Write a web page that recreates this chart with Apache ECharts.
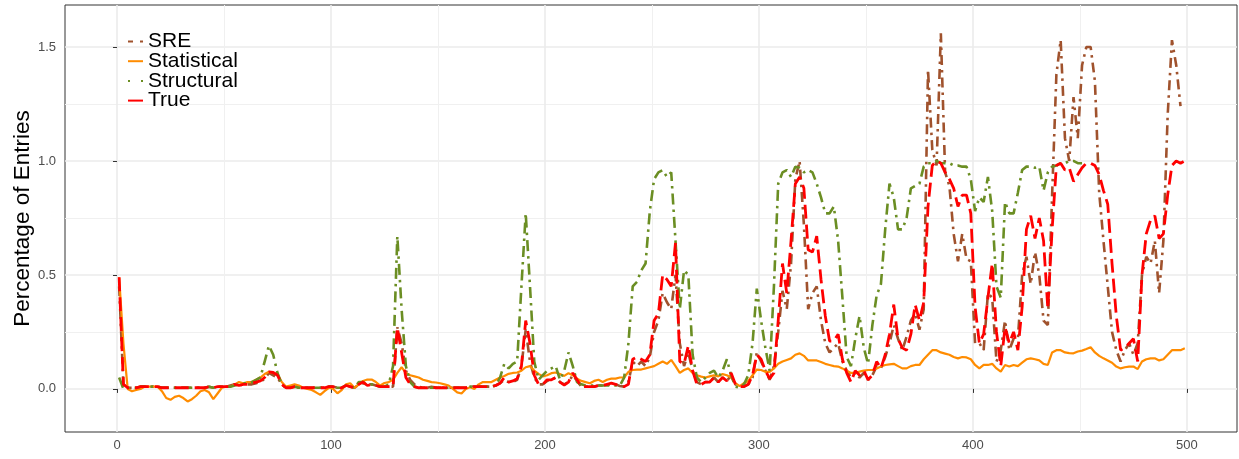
<!DOCTYPE html>
<html>
<head>
<meta charset="utf-8">
<script src="https://cdn.jsdelivr.net/npm/echarts@6.0.0/dist/echarts.min.js"></script>
<style>
html,body{margin:0;padding:0;background:#fff;}
#chart{width:1239px;height:459px;}
</style>
</head>
<body>
<div id="chart"></div>
<script>
// x positions (entry index)
const xValues = [
1,3,5,7,9,11,13,15,17,19,
21,23,25,27,29,31,33,35,37,39,
41,43,45,47,49,51,53,55,57,59,
61,63,65,67,69,71,73,75,77,79,
81,83,85,87,89,91,93,95,97,99,
101,103,105,107,109,111,113,115,117,119,
121,123,125,127,129,131,133,135,137,139,
141,143,145,147,149,151,153,155,157,159,
161,163,165,167,169,171,173,175,177,179,
181,183,185,187,189,191,193,195,197,199,
201,203,205,207,209,211,213,215,217,219,
221,223,225,227,229,231,233,235,237,239,
241,243,245,247,249,251,253,255,257,259,
261,263,265,267,269,271,273,275,277,279,
281,283,285,287,289,291,293,295,297,299,
301,303,305,307,309,311,313,315,317,319,
321,323,325,327,329,331,333,335,337,339,
341,343,345,347,349,351,353,355,357,359,
361,363,365,367,369,371,373,375,377,379,
381,383,385,387,389,391,393,395,397,399,
401,403,405,407,409,411,413,415,417,419,
421,423,425,427,429,431,433,435,437,439,
441,443,445,447,449,451,453,455,457,459,
461,463,465,467,469,471,473,475,477,479,
481,483,485,487,489,491,493,495,497,499
];

const sreValues = [
0.45,0.02,0.005,0.005,0.005,0.01,0.01,0.01,0.01,0.01,
0.005,0.005,0.005,0.005,0.005,0.005,0.005,0.005,0.005,0.005,
0.005,0.01,0.005,0.01,0.01,0.01,0.015,0.02,0.015,0.02,
0.02,0.02,0.025,0.03,0.045,0.07,0.06,0.05,0.02,0.005,
0.005,0.01,0.005,0.005,0.005,0.005,0.005,0.005,0.005,0.01,
0.01,0.005,0.005,0.015,0.01,0.005,0.02,0.025,0.02,0.02,
0.015,0.01,0.01,0.01,0.01,0.27,0.2,0.08,0.04,0.02,
0.01,0.005,0.005,0.01,0.005,0.005,0.005,0.005,0.005,0.005,
0.005,0.005,0.01,0.01,0.01,0.01,0.01,0.01,0.015,0.025,
0.04,0.03,0.03,0.04,0.1,0.26,0.12,0.05,0.02,0.02,
0.035,0.04,0.05,0.03,0.02,0.03,0.06,0.035,0.01,0.01,
0.01,0.01,0.015,0.015,0.02,0.02,0.02,0.013,0.01,0.03,
0.12,0.1,0.12,0.1,0.14,0.25,0.3,0.42,0.38,0.35,
0.5,0.2,0.1,0.16,0.08,0.03,0.02,0.03,0.03,0.05,
0.03,0.05,0.035,0.06,0.02,0.01,0.01,0.02,0.05,0.16,
0.12,0.08,0.04,0.1,0.25,0.43,0.35,0.55,0.92,1.0,
0.72,0.35,0.42,0.45,0.3,0.2,0.16,0.18,0.2,0.12,
0.08,0.05,0.07,0.05,0.07,0.04,0.06,0.1,0.09,0.14,
0.2,0.28,0.22,0.17,0.23,0.3,0.33,0.26,0.35,1.4,
1.05,0.98,1.56,0.95,0.89,0.68,0.56,0.68,0.57,0.56,
0.2,0.2,0.17,0.42,0.4,0.12,0.17,0.3,0.17,0.22,
0.22,0.5,0.58,0.46,0.6,0.5,0.3,0.28,0.85,1.38,
1.53,1.1,1.0,1.28,1.1,1.42,1.5,1.5,1.35,0.86,
0.65,0.45,0.25,0.17,0.12,0.17,0.2,0.15,0.2,0.5,
0.58,0.55,0.65,0.42,0.65,1.2,1.53,1.42,1.24,null
];

const statisticalValues = [
0.49,0.2,0.0,-0.01,-0.005,0.0,0.01,0.01,0.01,0.01,
-0.01,-0.04,-0.048,-0.035,-0.03,-0.04,-0.055,-0.045,-0.03,-0.01,
-0.005,-0.015,-0.045,-0.02,0.005,0.01,0.01,0.02,0.03,0.025,
0.03,0.03,0.04,0.05,0.065,0.075,0.07,0.065,0.03,0.01,
0.015,0.02,0.015,0.005,0.0,-0.005,-0.015,-0.026,-0.01,0.005,
0.0,-0.019,-0.005,0.02,0.025,0.005,0.02,0.035,0.041,0.041,
0.03,0.015,0.026,0.03,0.04,0.07,0.095,0.07,0.06,0.055,
0.05,0.04,0.035,0.03,0.028,0.025,0.02,0.015,0.0,-0.015,
-0.02,0.0,0.007,0.0,0.02,0.03,0.03,0.03,0.04,0.05,
0.057,0.066,0.07,0.072,0.08,0.095,0.1,0.08,0.066,0.055,
0.06,0.069,0.072,0.065,0.057,0.069,0.06,0.045,0.035,0.03,
0.025,0.035,0.04,0.03,0.04,0.045,0.045,0.05,0.05,0.075,
0.083,0.085,0.085,0.09,0.095,0.1,0.11,0.12,0.11,0.127,
0.1,0.07,0.083,0.09,0.07,0.06,0.054,0.05,0.055,0.06,
0.055,0.065,0.06,0.05,0.025,0.012,0.025,0.035,0.06,0.085,
0.083,0.075,0.075,0.09,0.11,0.12,0.127,0.134,0.15,0.156,
0.145,0.125,0.125,0.125,0.118,0.11,0.105,0.1,0.098,0.09,
0.08,0.07,0.07,0.076,0.08,0.083,0.083,0.09,0.098,0.105,
0.108,0.11,0.1,0.09,0.09,0.1,0.105,0.105,0.13,0.15,
0.17,0.17,0.16,0.155,0.15,0.14,0.134,0.14,0.138,0.13,
0.105,0.09,0.105,0.105,0.11,0.09,0.076,0.105,0.098,0.105,
0.1,0.115,0.13,0.134,0.13,0.125,0.11,0.105,0.16,0.17,
0.17,0.16,0.157,0.156,0.164,0.168,0.175,0.183,0.16,0.145,
0.134,0.125,0.115,0.098,0.09,0.095,0.098,0.098,0.087,0.12,
0.13,0.134,0.134,0.125,0.13,0.15,0.17,0.17,0.17,0.178
];

const structuralValues = [
0.05,0.0,0.005,0.005,0.005,0.01,0.01,0.01,0.01,0.01,
0.005,0.005,0.005,0.005,0.005,0.005,0.005,0.005,0.005,0.005,
0.005,0.01,0.005,0.01,0.01,0.01,0.01,0.015,0.02,0.025,
0.025,0.03,0.04,0.05,0.12,0.19,0.15,0.07,0.02,0.005,
0.005,0.01,0.005,0.005,0.005,0.005,0.005,0.005,0.005,0.01,
0.01,0.005,0.005,0.015,0.01,0.005,0.03,0.03,0.015,0.02,
0.015,0.01,0.01,0.02,0.1,0.67,0.35,0.1,0.03,0.01,
0.005,0.005,0.005,0.005,0.005,0.005,0.005,0.005,0.005,0.005,
0.005,0.005,0.01,0.01,0.01,0.01,0.01,0.01,0.015,0.05,
0.11,0.09,0.11,0.12,0.45,0.77,0.45,0.12,0.04,0.06,
0.08,0.09,0.1,0.04,0.08,0.16,0.1,0.03,0.02,0.015,
0.015,0.015,0.015,0.015,0.015,0.015,0.015,0.015,0.05,0.2,
0.45,0.47,0.52,0.55,0.78,0.92,0.95,0.96,0.93,0.95,
0.65,0.35,0.52,0.5,0.15,0.05,0.03,0.05,0.07,0.08,
0.05,0.08,0.13,0.06,0.01,0.005,0.02,0.06,0.2,0.44,
0.3,0.18,0.08,0.45,0.9,0.95,0.96,0.93,0.975,0.97,
0.95,0.96,0.95,0.9,0.84,0.77,0.77,0.8,0.65,0.4,
0.14,0.1,0.22,0.32,0.18,0.11,0.28,0.41,0.46,0.7,
0.9,0.84,0.7,0.7,0.75,0.88,0.89,0.9,0.975,0.99,
0.99,1.0,0.99,0.99,0.99,0.98,0.98,0.975,0.975,0.92,
0.78,0.84,0.82,0.93,0.78,0.45,0.4,0.82,0.77,0.77,
0.86,0.96,0.975,0.975,0.97,0.975,0.87,0.95,0.975,0.98,
0.99,0.99,1.0,1.0,0.99,0.99,null,null,null,null,
null,null,null,null,null,null,null,null,null,null,
null,null,null,null,null,null,null,null,null,null
];

const trueValues = [
0.49,0.02,0.005,0.005,0.005,0.01,0.01,0.01,0.01,0.01,
0.005,0.005,0.005,0.005,0.005,0.005,0.005,0.005,0.005,0.005,
0.005,0.01,0.005,0.01,0.01,0.01,0.01,0.02,0.015,0.02,
0.02,0.025,0.03,0.035,0.05,0.075,0.072,0.06,0.02,0.005,
0.005,0.01,0.005,0.005,0.005,0.005,0.005,0.005,0.005,0.01,
0.01,0.0,0.005,0.015,0.01,0.005,0.02,0.03,0.015,0.02,
0.015,0.01,0.01,0.01,0.01,0.27,0.16,0.05,0.02,0.01,
0.005,0.005,0.005,0.01,0.005,0.005,0.005,0.005,0.005,0.005,
0.005,0.005,0.01,0.01,0.01,0.01,0.01,0.01,0.015,0.025,
0.05,0.03,0.035,0.045,0.1,0.3,0.2,0.06,0.02,0.02,
0.04,0.04,0.05,0.03,0.017,0.03,0.07,0.04,0.01,0.01,
0.01,0.01,0.015,0.015,0.02,0.025,0.02,0.013,0.01,0.02,
0.13,0.14,0.13,0.12,0.15,0.3,0.33,0.5,0.48,0.45,
0.64,0.12,0.11,0.19,0.08,0.02,0.02,0.03,0.03,0.05,
0.03,0.05,0.035,0.07,0.02,0.01,0.01,0.02,0.06,0.15,
0.13,0.08,0.045,0.07,0.3,0.55,0.42,0.65,0.9,0.93,
0.88,0.61,0.6,0.67,0.48,0.32,0.21,0.21,0.24,0.13,
0.07,0.03,0.08,0.06,0.08,0.04,0.06,0.12,0.09,0.15,
0.24,0.37,0.22,0.18,0.17,0.24,0.37,0.3,0.38,0.8,
0.98,1.0,0.99,0.95,0.92,0.88,0.8,0.85,0.85,0.77,
0.36,0.2,0.24,0.4,0.55,0.25,0.1,0.27,0.2,0.25,
0.17,0.36,0.7,0.76,0.66,0.75,0.65,0.35,0.7,0.98,
0.99,0.96,0.97,0.91,0.94,0.97,0.99,0.99,0.98,0.94,
0.87,0.81,0.55,0.32,0.17,0.18,0.2,0.22,0.12,0.5,
0.68,0.74,0.76,0.66,0.68,0.85,0.98,1.0,0.99,1.0
];

const seriesNames = ['SRE','Statistical','Structural','True'];
const xTicks = [0,100,200,300,400,500];
const xMinorTicks = [50,150,250,350,450];
const yTicks = [0,0.5,1,1.5];
const yMinorTicks = [0.25,0.75,1.25];

const FONT = '"Liberation Sans", Arial, Helvetica, sans-serif';
const XMIN = -24.3, XMAX = 523.4;
const YMIN = -0.189, YMAX = 1.684;

function pairs(vals){ return xValues.map((x,i)=>[x, vals[i]]); }

const chart = echarts.init(document.getElementById('chart'), null, {renderer:'canvas'});
const hiddenDot = { color: 'rgba(0,0,0,0)', borderColor: 'rgba(0,0,0,0)', borderWidth: 0 };
const option = {
  animation: false,
  backgroundColor: '#fff',
  grid: { left: 65, right: 2, top: 5, bottom: 27, show: true, borderColor: '#333333', borderWidth: 1,
    backgroundColor: 'transparent', containLabel: false, outerBoundsMode: 'none' },
  legend: {
    orient: 'vertical', left: 127, top: 31, padding: 0, itemGap: -1.3,
    itemWidth: 15, itemHeight: 10,
    textStyle: { fontSize: 21, color: '#000', lineHeight: 18.7, fontFamily: FONT },
    itemStyle: hiddenDot,
    data: [
      { name: seriesNames[0], itemStyle: hiddenDot, lineStyle: { type: [5, 7, 3, 7] } },
      { name: seriesNames[1], itemStyle: hiddenDot },
      { name: seriesNames[2], itemStyle: hiddenDot, lineStyle: { type: [2, 11, 3, 8] } },
      { name: seriesNames[3], itemStyle: hiddenDot, lineStyle: { type: 'solid' } }
    ]
  },
  xAxis: [
    { type: 'value', min: XMIN, max: XMAX, position: 'bottom',
      axisLine: { show: false },
      axisTick: { show: true, length: 4, lineStyle: { color: '#333333', width: 1 }, customValues: xTicks },
      axisLabel: { customValues: xTicks, color: '#4D4D4D', fontSize: 13, margin: 7, fontFamily: FONT },
      splitLine: { show: true, lineStyle: { color: '#EBEBEB', width: 1.6 } } },
    { type: 'value', min: XMIN, max: XMAX, position: 'top',
      axisLine: { show: false },
      axisTick: { show: false, customValues: xMinorTicks },
      axisLabel: { show: false, customValues: xMinorTicks },
      splitLine: { show: true, lineStyle: { color: '#F0F0F0', width: 1 } } }
  ],
  yAxis: [
    { type: 'value', min: YMIN, max: YMAX, position: 'left',
      name: 'Percentage of Entries', nameLocation: 'middle', nameGap: 31, nameMoveOverlap: false,
      nameTextStyle: { fontSize: 22.5, color: '#000', fontFamily: FONT },
      axisLine: { show: false },
      axisTick: { show: true, length: 4, lineStyle: { color: '#333333', width: 1 }, customValues: yTicks },
      axisLabel: { customValues: yTicks, color: '#4D4D4D', fontSize: 13, margin: 9, fontFamily: FONT,
        formatter: v => Number(v).toFixed(1) },
      splitLine: { show: true, lineStyle: { color: '#EBEBEB', width: 1.6 } } },
    { type: 'value', min: YMIN, max: YMAX, position: 'right',
      axisLine: { show: false },
      axisTick: { show: false, customValues: yMinorTicks },
      axisLabel: { show: false, customValues: yMinorTicks },
      splitLine: { show: true, lineStyle: { color: '#F0F0F0', width: 1 } } }
  ],
  series: [
    { name: seriesNames[0], type: 'line', data: pairs(sreValues), xAxisIndex: 0, yAxisIndex: 0,
      symbol: 'none', connectNulls: false, z: 2,
      lineStyle: { color: '#A0522D', width: 2.6, type: [10, 5, 2.5, 5] }, itemStyle: { color: '#A0522D' } },
    { name: seriesNames[1], type: 'line', data: pairs(statisticalValues), xAxisIndex: 0, yAxisIndex: 0,
      symbol: 'none', z: 3,
      lineStyle: { color: '#FF8C00', width: 2.2, type: 'solid' }, itemStyle: { color: '#FF8C00' } },
    { name: seriesNames[2], type: 'line', data: pairs(structuralValues), xAxisIndex: 0, yAxisIndex: 0,
      symbol: 'none', connectNulls: false, z: 4,
      lineStyle: { color: '#6B8E23', width: 2.6, type: [11, 5, 2.5, 5] }, itemStyle: { color: '#6B8E23' } },
    { name: seriesNames[3], type: 'line', data: pairs(trueValues), xAxisIndex: 0, yAxisIndex: 0,
      symbol: 'none', z: 5,
      lineStyle: { color: '#FF0000', width: 2.8, type: [14, 6] }, itemStyle: { color: '#FF0000' } }
  ]
};
chart.setOption(option);
</script>
</body>
</html>
